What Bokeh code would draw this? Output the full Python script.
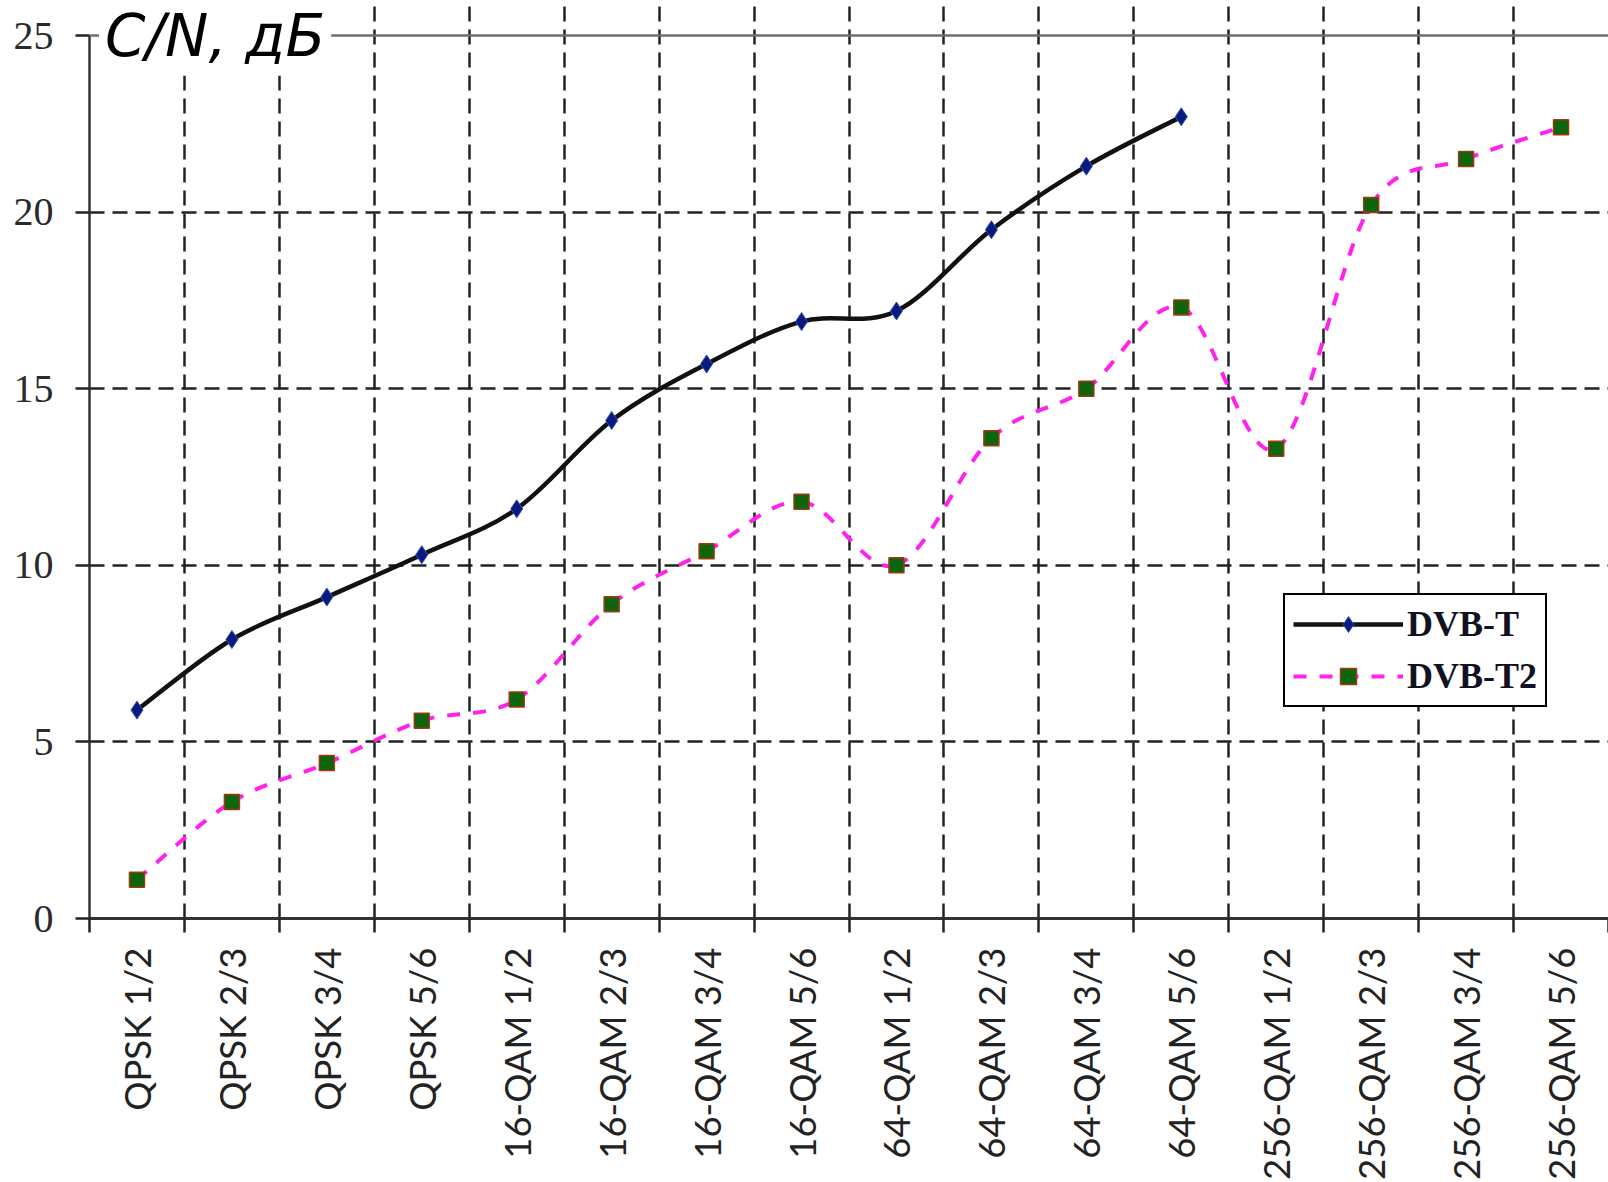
import numpy as np
from bokeh.plotting import figure
from bokeh.models import FixedTicker, Span, Label, Legend, LegendItem, Range1d
from bokeh.embed import file_html
from bokeh.resources import INLINE

categories = ["QPSK 1/2", "QPSK 2/3", "QPSK 3/4", "QPSK 5/6",
              "16-QAM 1/2", "16-QAM 2/3", "16-QAM 3/4", "16-QAM 5/6",
              "64-QAM 1/2", "64-QAM 2/3", "64-QAM 3/4", "64-QAM 5/6",
              "256-QAM 1/2", "256-QAM 2/3", "256-QAM 3/4", "256-QAM 5/6"]
dvbt = [5.9, 7.9, 9.1, 10.3, 11.6, 14.1, 15.7, 16.9, 17.2, 19.5, 21.3, 22.7]
dvbt2 = [1.1, 3.3, 4.4, 5.6, 6.2, 8.9, 10.4, 11.8, 10.0, 13.6, 15.0, 17.3,
         13.3, 20.2, 21.5, 22.4]
y_ticks = [0, 5, 10, 15, 20, 25]
y_grid = [5, 10, 15, 20]
y_max = 25
title_text = "C/N, дБ"
series_names = ["DVB-T", "DVB-T2"]

n = len(categories)
centers = [i + 0.5 for i in range(n)]
bounds = list(range(n + 1))

# frame spans from canvas top to the x axis; value 25 sits 35px below the top
frame_h = 918
top_pad = 35
y_top = y_max * frame_h / (frame_h - top_pad)

p = figure(width=1608, height=1182, x_range=Range1d(0, n), y_range=Range1d(0, y_top),
           output_backend="svg", toolbar_location=None,
           min_border_left=89, min_border_right=0, min_border_top=0, min_border_bottom=264)
p.outline_line_color = None
p.background_fill_color = "white"
p.border_fill_color = "white"

# axes
xa = p.xaxis[0]
xa.ticker = FixedTicker(ticks=centers, minor_ticks=bounds)
xa.major_label_overrides = {c: lab for c, lab in zip(centers, categories)}
xa.major_tick_line_color = None
xa.major_tick_out = 0
xa.major_tick_in = 0
xa.minor_tick_out = 14
xa.minor_tick_in = 0
xa.minor_tick_line_width = 2.5
xa.minor_tick_line_color = "#222222"
xa.axis_line_width = 3
xa.axis_line_color = "#333333"
xa.major_label_orientation = np.pi / 2
xa.major_label_standoff = 15
xa.major_label_text_font = "Lato"
xa.major_label_text_font_size = "36.5px"
xa.major_label_text_color = "#222222"

ya = p.yaxis[0]
ya.ticker = FixedTicker(ticks=y_ticks)
ya.bounds = (0, y_max)
ya.major_tick_out = 14
ya.major_tick_in = 0
ya.minor_tick_line_color = None
ya.major_tick_line_width = 2.5
ya.major_tick_line_color = "#222222"
ya.axis_line_width = 2.5
ya.axis_line_color = "#333333"
ya.major_label_standoff = 22
ya.major_label_text_font = "Liberation Serif"
ya.major_label_text_font_size = "40px"
ya.major_label_text_color = "#2a2a2a"

# grids
p.xgrid.ticker = FixedTicker(ticks=bounds[1:-1])
p.xgrid.bounds = (0, y_max)
p.ygrid.ticker = FixedTicker(ticks=y_grid)
for g in (p.xgrid, p.ygrid):
    g.grid_line_color = "#222222"
    g.grid_line_width = 2.5
    g.grid_line_dash = "15 8"

p.add_layout(Span(location=y_max, dimension="width", line_color="#6e6e6e", line_width=2.5))


def bezier_parts(xs, ys):
    P = list(zip(xs, ys))
    m = len(P)
    out = {k: [] for k in ("x0", "y0", "x1", "y1", "cx0", "cy0", "cx1", "cy1")}
    for i in range(m - 1):
        pm = P[i - 1] if i > 0 else P[i]
        a = P[i]
        b = P[i + 1]
        pn = P[i + 2] if i + 2 < m else P[i + 1]
        out["x0"].append(a[0]); out["y0"].append(a[1])
        out["x1"].append(b[0]); out["y1"].append(b[1])
        out["cx0"].append(a[0] + (b[0] - pm[0]) / 6); out["cy0"].append(a[1] + (b[1] - pm[1]) / 6)
        out["cx1"].append(b[0] - (pn[0] - a[0]) / 6); out["cy1"].append(b[1] - (pn[1] - a[1]) / 6)
    return out


t_style = dict(line_color="#111111", line_width=4.5)
t2_style = dict(line_color="#ff22ee", line_width=4, line_dash="13 13")
d_style = dict(marker="diamond", size=18, fill_color="#0a1a7a",
               line_color="#3050c0", line_width=1)
s_style = dict(marker="square", size=15, fill_color="#0d650d", line_color="#a03a10",
               line_width=1.5)

xt = centers[:len(dvbt)]
p.bezier(**bezier_parts(xt, dvbt), **t_style)
p.bezier(**bezier_parts(centers, dvbt2), **t2_style)
r1 = p.scatter(xt, dvbt, **d_style)
r2 = p.scatter(centers, dvbt2, **s_style)

# legend-only line renderers (no visible data)
l1 = p.line([np.nan, np.nan], [np.nan, np.nan], **t_style)
l2 = p.line([np.nan, np.nan], [np.nan, np.nan], **t2_style)

legend = Legend(items=[LegendItem(label=series_names[0], renderers=[l1, r1]),
                       LegendItem(label=series_names[1], renderers=[l2, r2])],
                location=(1194, 211))
legend.label_text_font = "Liberation Serif"
legend.label_text_font_style = "bold"
legend.label_text_font_size = "36px"
legend.label_text_color = "#111122"
legend.glyph_width = 110
legend.glyph_height = 40
legend.label_height = 40
legend.label_standoff = 4
legend.padding = 8
legend.spacing = 10
legend.margin = 0
legend.border_line_color = "black"
legend.border_line_alpha = 1
legend.border_line_width = 2.5
legend.background_fill_color = "white"
legend.background_fill_alpha = 1
p.add_layout(legend)

title = Label(x=0.1, y=y_max, text=title_text, text_font="DejaVu Sans",
              text_font_style="italic", text_font_size="58px", text_color="black",
              text_align="left", text_baseline="middle",
              background_fill_color="white", background_fill_alpha=1, padding=6)
p.add_layout(title)

open("out.html", "w").write(file_html(p, INLINE))
